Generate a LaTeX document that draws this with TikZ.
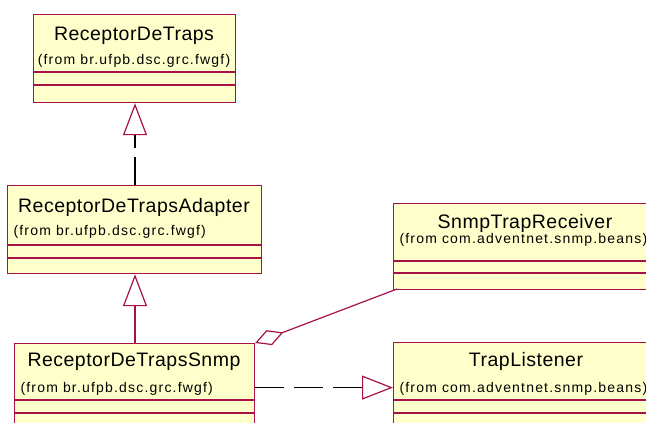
\documentclass[tikz,border=0pt]{standalone}
\usepackage{fontspec}
\setmainfont{Liberation Sans}
\usepackage{tikz}
\usetikzlibrary{arrows.meta}
\definecolor{umlred}{HTML}{A8104A}
\definecolor{umlfill}{HTML}{FFFFCC}

\begin{document}
\begin{tikzpicture}[
    x=1pt, y=-1pt,
    classbox/.style={
        rectangle,
        anchor=north west,
        draw=umlred,
        fill=umlfill,
        line width=1.2pt,
        inner sep=0pt,
        minimum height=88pt
    },
    classline/.style={draw=umlred, line width=1.2pt},
    classname/.style={anchor=base, font=\fontsize{19.5}{22}\selectfont\addfontfeature{LetterSpace=2.5}},
    package/.style={anchor=base west, font=\fontsize{14}{16}\selectfont\addfontfeature{LetterSpace=8.5}},
    realize/.style={draw=black, line width=1.2pt, dash pattern=on 28pt off 9pt, -{Triangle[open, length=32pt, width=24pt, color=umlred, line width=1.2pt]}},
    inherit/.style={draw=umlred, line width=1.2pt, -{Triangle[open, length=32pt, width=24pt, line width=1.2pt]}},
    depend/.style={draw=black, line width=1.2pt, dash pattern=on 29pt off 10pt, -{Triangle[open, length=31pt, width=24pt, color=umlred, line width=1.2pt]}},
    aggregate/.style={draw=umlred, line width=1.2pt, -{Diamond[open, length=30pt, width=16pt, line width=1.2pt]}}
]
    \useasboundingbox (0,0) rectangle (646,423);
    \clip (0,0) rectangle (646,423);

    % === ReceptorDeTraps ===
    \node[classbox, minimum width=202pt] (rdt) at (33,14) {};
    \node[classname] (rdtname) at (134,40.7) {ReceptorDeTraps};
    \node[package, anchor=base] (rdtpkg) at (134,64) {(from br.ufpb.dsc.grc.fwgf)};
    \draw[classline] (rdt.west |- 0,72) -- (rdt.east |- 0,72);
    \draw[classline] (rdt.west |- 0,85) -- (rdt.east |- 0,85);

    % === ReceptorDeTrapsAdapter ===
    \node[classbox, minimum width=254pt] (rdta) at (7,185) {};
    \node[classname] (rdtaname) at (134,212.3) {ReceptorDeTrapsAdapter};
    \node[package] (rdtapkg) at (10,235.5) {(from br.ufpb.dsc.grc.fwgf)};
    \draw[classline] (rdta.west |- 0,245) -- (rdta.east |- 0,245);
    \draw[classline] (rdta.west |- 0,258) -- (rdta.east |- 0,258);

    % === ReceptorDeTrapsSnmp ===
    \node[classbox, minimum width=240pt] (rdts) at (14,343) {};
    \node[classname] (rdtsname) at (134,366.7) {ReceptorDeTrapsSnmp};
    \node[package] (rdtspkg) at (17,392.5) {(from br.ufpb.dsc.grc.fwgf)};
    \draw[classline] (rdts.west |- 0,400) -- (rdts.east |- 0,400);
    \draw[classline] (rdts.west |- 0,413) -- (rdts.east |- 0,413);

    % === SnmpTrapReceiver ===
    \node[classbox, minimum width=265pt, minimum height=86pt] (str) at (393,203) {};
    \node[classname] (strname) at (525,228.3) {SnmpTrapReceiver};
    \node[package] (strpkg) at (396,243) {(from com.adventnet.snmp.beans)};
    \draw[classline] (str.west |- 0,261) -- (str.east |- 0,261);
    \draw[classline] (str.west |- 0,273) -- (str.east |- 0,273);

    % === TrapListener ===
    \node[classbox, minimum width=265pt] (tl) at (393,342) {};
    \node[classname] (tlname) at (526,366.7) {TrapListener};
    \node[package] (tlpkg) at (396,392) {(from com.adventnet.snmp.beans)};
    \draw[classline] (tl.west |- 0,400) -- (tl.east |- 0,400);
    \draw[classline] (tl.west |- 0,413) -- (tl.east |- 0,413);

    % === RELATIONS ===
    \draw[realize] (rdta.north -| 135,0) -- (rdt.south -| 135,0);
    \draw[inherit] (rdts.north -| 135,0) -- (rdta.south -| 135,0);
    \draw[depend] (rdts.east) -- (rdts.east -| tl.west);
    \coordinate (strfoot) at (397,289);
    \draw[aggregate] (strfoot) -- (rdts.north east);
\end{tikzpicture}
\end{document}
